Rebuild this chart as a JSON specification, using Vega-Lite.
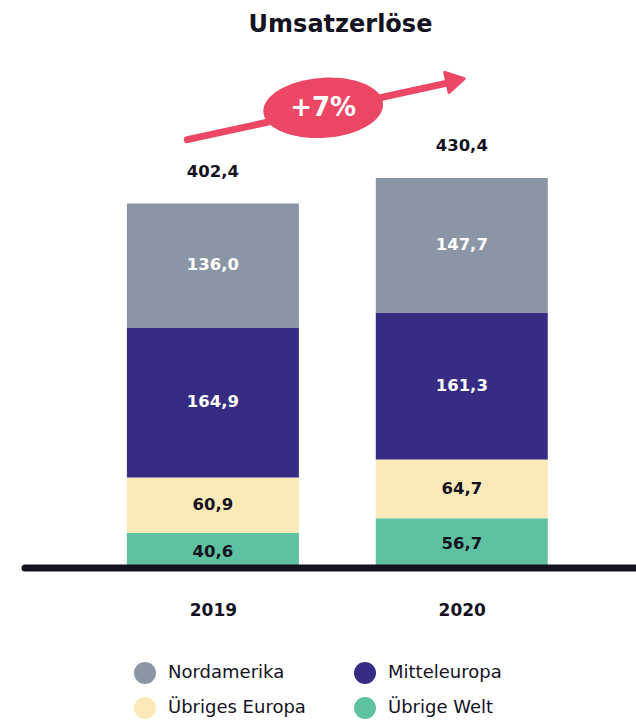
{
  "$schema": "https://vega.github.io/schema/vega-lite/v6.json",
  "width": 611,
  "height": 510,
  "autosize": "none",
  "padding": {"left": 25, "top": 60, "right": 0, "bottom": 154},
  "background": "white",
  "config": {
    "view": {"stroke": null},
    "locale": {"number": {"decimal": ",", "thousands": ".", "grouping": [3], "currency": ["", "€"]}},
    "font": "DejaVu Sans"
  },
  "title": {
    "text": "Umsatzerlöse",
    "fontSize": 24,
    "fontWeight": "bold",
    "font": "DejaVu Sans",
    "color": "#14121f",
    "anchor": "middle",
    "dx": 10,
    "offset": 23
  },
  "datasets": {
    "umsatz": [
      {"year": 2019, "region": "Übrige Welt", "rank": 1, "value": 40.6},
      {"year": 2019, "region": "Übriges Europa", "rank": 2, "value": 60.9},
      {"year": 2019, "region": "Mitteleuropa", "rank": 3, "value": 164.9},
      {"year": 2019, "region": "Nordamerika", "rank": 4, "value": 136.0},
      {"year": 2020, "region": "Übrige Welt", "rank": 1, "value": 56.7},
      {"year": 2020, "region": "Übriges Europa", "rank": 2, "value": 64.7},
      {"year": 2020, "region": "Mitteleuropa", "rank": 3, "value": 161.3},
      {"year": 2020, "region": "Nordamerika", "rank": 4, "value": 147.7}
    ],
    "arrow": [
      {"xa": 2018.897, "ya": 472.5, "xb": 2019.955, "yb": 535.5}
    ],
    "head": [
      {"xh": 2019.975, "yh": 537.5}
    ],
    "badge": [
      {"xe": 2019.443, "ye": 507.5, "label": "+7%"}
    ]
  },
  "layer": [
    {
      "data": {"name": "umsatz"},
      "mark": {"type": "bar", "width": 172},
      "encoding": {
        "x": {
          "field": "year",
          "type": "quantitative",
          "scale": {"domain": [2018.265, 2020.680], "nice": false, "zero": false},
          "axis": {
            "values": [2019, 2020],
            "format": "d",
            "title": null,
            "domain": false,
            "ticks": false,
            "grid": false,
            "labelPadding": 32,
            "labelFontSize": 17,
            "labelFontWeight": "bold",
            "labelColor": "#14121f",
            "labelFont": "DejaVu Sans"
          }
        },
        "y": {
          "field": "value",
          "type": "quantitative",
          "aggregate": "sum",
          "stack": "zero",
          "scale": {"domain": [0, 560], "nice": false},
          "axis": null
        },
        "order": {"field": "rank", "type": "quantitative"},
        "color": {
          "field": "region",
          "type": "nominal",
          "scale": {
            "domain": ["Nordamerika", "Übriges Europa", "Mitteleuropa", "Übrige Welt"],
            "range": ["#8a95a5", "#fbeab8", "#362c83", "#5ec2a2"]
          },
          "legend": {
            "title": null,
            "orient": "none",
            "legendX": 109,
            "legendY": 602,
            "columns": 2,
            "gridAlign": "all",
            "columnPadding": 48,
            "rowPadding": 13,
            "symbolType": "circle",
            "symbolSize": 484,
            "symbolStrokeWidth": 0,
            "labelFontSize": 18,
            "labelFont": "DejaVu Sans",
            "labelColor": "#14121f",
            "labelOffset": 12,
            "labelLimit": 300,
            "padding": 0
          }
        }
      }
    },
    {
      "data": {"name": "umsatz"},
      "mark": {"type": "text", "fontSize": 16.5, "fontWeight": "bold", "font": "DejaVu Sans", "baseline": "middle", "align": "center"},
      "encoding": {
        "x": {"field": "year", "type": "quantitative"},
        "y": {"field": "value", "type": "quantitative", "aggregate": "sum", "stack": "zero", "bandPosition": 0.5},
        "order": {"field": "rank", "type": "quantitative"},
        "detail": {"field": "region", "type": "nominal"},
        "text": {"field": "value", "type": "quantitative", "format": ".1f"},
        "color": {
          "condition": {"test": "datum.region === 'Nordamerika' || datum.region === 'Mitteleuropa'", "value": "#ffffff"},
          "value": "#14121f"
        }
      }
    },
    {
      "data": {"name": "umsatz"},
      "transform": [
        {"aggregate": [{"op": "sum", "field": "value", "as": "total"}], "groupby": ["year"]}
      ],
      "mark": {"type": "text", "fontSize": 16.5, "fontWeight": "bold", "font": "DejaVu Sans", "baseline": "middle", "align": "center", "dy": -32, "color": "#14121f"},
      "encoding": {
        "x": {"field": "year", "type": "quantitative"},
        "y": {"field": "total", "type": "quantitative"},
        "text": {"field": "total", "type": "quantitative", "format": ".1f"}
      }
    },
    {
      "data": {"values": [{"base": 0}]},
      "mark": {"type": "rule", "strokeWidth": 7, "strokeCap": "round", "color": "#14121f", "yOffset": -2},
      "encoding": {
        "y": {"field": "base", "type": "quantitative"}
      }
    },
    {
      "data": {"name": "arrow"},
      "mark": {"type": "rule", "strokeWidth": 7, "strokeCap": "round", "color": "#ec4866"},
      "encoding": {
        "x": {"field": "xa", "type": "quantitative"},
        "y": {"field": "ya", "type": "quantitative"},
        "x2": {"field": "xb"},
        "y2": {"field": "yb"}
      }
    },
    {
      "data": {"name": "head"},
      "mark": {"type": "point", "shape": "triangle-right", "size": 420, "filled": true, "opacity": 1, "color": "#ec4866", "stroke": "#ec4866", "strokeWidth": 3, "strokeJoin": "round", "angle": -12.3},
      "encoding": {
        "x": {"field": "xh", "type": "quantitative"},
        "y": {"field": "yh", "type": "quantitative"}
      }
    },
    {
      "data": {"name": "badge"},
      "mark": {"type": "point", "shape": "M-1,0 A1,0.5 0 1,0 1,0 A1,0.5 0 1,0 -1,0 Z", "size": 14400, "filled": true, "opacity": 1, "color": "#ec4866", "angle": -4},
      "encoding": {
        "x": {"field": "xe", "type": "quantitative"},
        "y": {"field": "ye", "type": "quantitative"}
      }
    },
    {
      "data": {"name": "badge"},
      "mark": {"type": "text", "fontSize": 26, "fontWeight": "bold", "font": "DejaVu Sans", "color": "#ffffff", "baseline": "middle", "align": "center"},
      "encoding": {
        "x": {"field": "xe", "type": "quantitative"},
        "y": {"field": "ye", "type": "quantitative"},
        "text": {"field": "label", "type": "nominal"}
      }
    }
  ]
}
